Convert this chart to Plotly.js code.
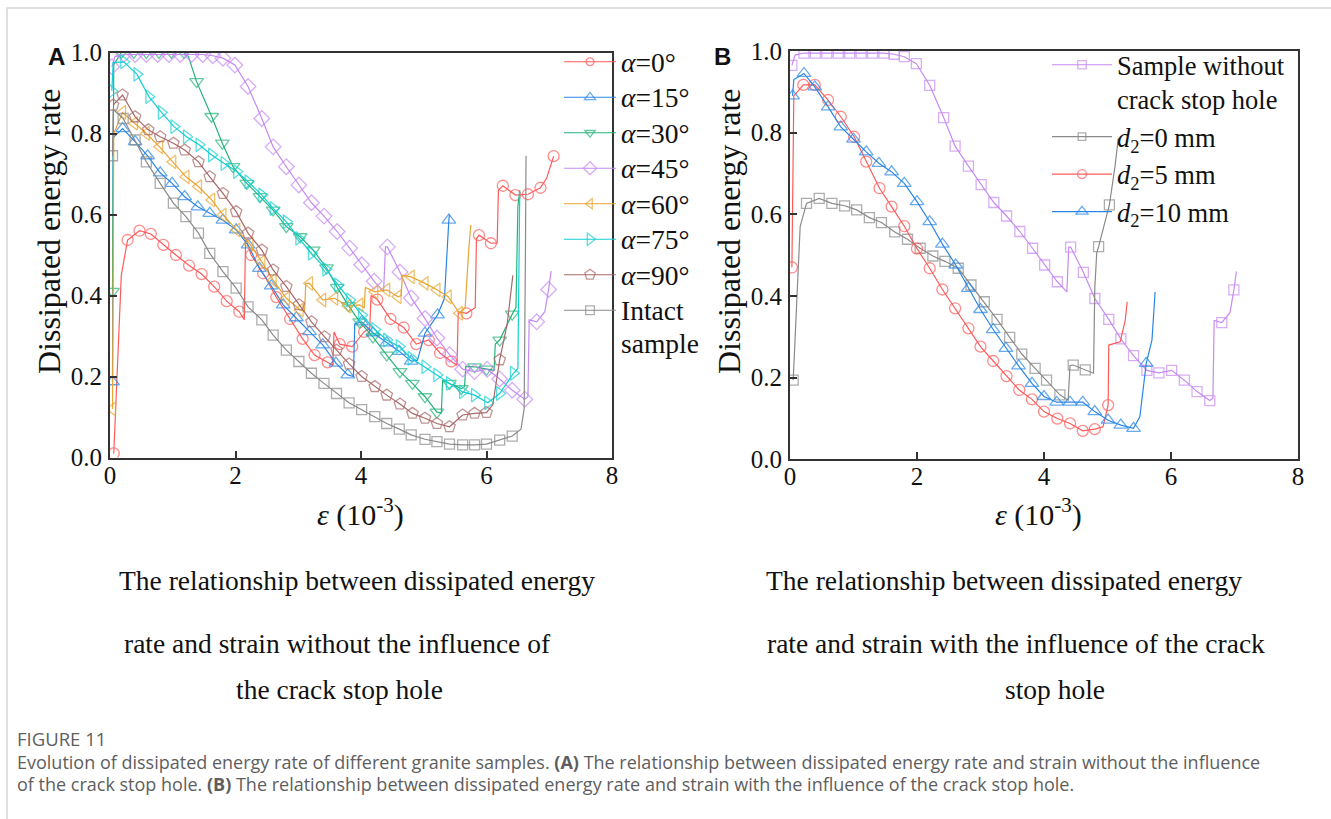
<!DOCTYPE html>
<html><head><meta charset="utf-8">
<script src="https://cdn.plot.ly/plotly-3.0.1.min.js"></script>
<style>html,body{margin:0;padding:0;background:#fff}#g{width:1331px;height:819px}</style>
</head><body><div id="g"></div>
<script>
// ---- data: [strain(1e-3), dissipated energy rate]; third element 0 = line vertex without marker ----
const alpha0 = [[0.06,0.01],[0.18,0.45,0],[0.28,0.537],[0.47,0.56],[0.65,0.552],[0.85,0.525],[1.05,0.50],[1.26,0.474],[1.46,0.453],[1.66,0.422],[1.86,0.386],[2.06,0.36],[2.14,0.34,0],[2.16,0.54,0],[2.25,0.50],[2.44,0.455],[2.65,0.396],[2.87,0.342],[3.07,0.293],[3.26,0.253],[3.47,0.235],[3.55,0.228,0],[3.57,0.31,0],[3.66,0.28],[3.86,0.274],[4.05,0.31],[4.14,0.32,0],[4.16,0.40,0],[4.26,0.39],[4.47,0.342],[4.68,0.321],[4.88,0.28],[5.08,0.29],[5.26,0.258],[5.44,0.237],[5.53,0.228,0],[5.55,0.36,0],[5.68,0.356],[5.82,0.37,0],[5.84,0.54,0],[5.88,0.549],[6.07,0.529],[6.17,0.53,0],[6.19,0.66,0],[6.26,0.671],[6.46,0.648],[6.66,0.65],[6.86,0.666],[6.96,0.69,0],[7.07,0.744]];
const alpha15 = [[0.04,0.187],[0.05,0.79,0],[0.20,0.812],[0.40,0.78],[0.60,0.745],[0.80,0.703],[0.99,0.677],[1.19,0.644],[1.40,0.619],[1.59,0.603],[1.80,0.586],[2.01,0.562],[2.20,0.525],[2.38,0.467],[2.57,0.424],[2.76,0.377],[2.97,0.345],[3.18,0.311],[3.39,0.278],[3.60,0.233],[3.79,0.204],[3.88,0.20,0],[3.90,0.33,0],[4.01,0.335],[4.19,0.308],[4.41,0.283],[4.61,0.262],[4.80,0.238],[4.90,0.24,0],[5.02,0.307],[5.22,0.352],[5.33,0.393,0],[5.38,0.55,0],[5.40,0.586],[5.41,0.60,0]];
const alpha30 = [[0.04,0.41],[0.06,0.97,0],[0.18,1.0],[0.38,1.0],[0.58,1.0],[0.78,1.0],[0.98,1.0],[1.18,1.0],[1.25,0.99,0],[1.38,0.928],[1.62,0.842],[1.79,0.776],[1.96,0.718],[2.18,0.677],[2.39,0.644],[2.60,0.611],[2.81,0.570],[3.03,0.545],[3.24,0.512],[3.45,0.468],[3.62,0.42],[3.80,0.375],[3.98,0.335],[4.19,0.298],[4.41,0.253],[4.62,0.212],[4.82,0.183],[5.02,0.15],[5.21,0.112],[5.28,0.11,0],[5.30,0.19,0],[5.41,0.183],[5.60,0.17],[5.65,0.175,0],[5.67,0.225,0],[5.81,0.224],[6.0,0.218],[6.12,0.215,0],[6.14,0.28,0],[6.21,0.29],[6.41,0.354],[6.47,0.37,0],[6.50,0.62,0],[6.53,0.66,0]];
const alpha45 = [[0.03,0.965],[0.08,0.99,0],[0.22,0.995],[0.40,0.995],[0.58,0.995],[0.76,0.995],[0.94,0.995],[1.12,0.995],[1.30,0.995],[1.48,0.995],[1.64,0.992],[1.80,0.986],[1.99,0.969],[2.20,0.916],[2.42,0.837],[2.60,0.767],[2.81,0.718],[3.01,0.673],[3.21,0.629],[3.41,0.596],[3.62,0.558],[3.82,0.517],[4.01,0.476],[4.21,0.435],[4.36,0.41,0],[4.39,0.52,0],[4.42,0.52],[4.62,0.458],[4.80,0.394],[5.02,0.343],[5.21,0.295],[5.41,0.254],[5.62,0.218],[5.81,0.212],[6.01,0.218],[6.21,0.194],[6.41,0.166],[6.61,0.144],[6.66,0.15,0],[6.68,0.34,0],[6.80,0.335],[6.93,0.36,0],[6.99,0.415],[7.03,0.46,0]];
const alpha60 = [[0.04,0.12],[0.06,0.80,0],[0.20,0.852],[0.39,0.825],[0.58,0.80],[0.79,0.767],[1.0,0.73],[1.21,0.693],[1.41,0.669],[1.62,0.636],[1.80,0.599],[2.02,0.562],[2.23,0.527],[2.42,0.483],[2.60,0.438],[2.81,0.393],[3.03,0.364],[3.10,0.36,0],[3.12,0.43,0],[3.18,0.43],[3.39,0.389],[3.58,0.393],[3.79,0.374],[3.98,0.377],[4.05,0.37,0],[4.07,0.42,0],[4.22,0.409],[4.41,0.414],[4.59,0.397],[4.64,0.40,0],[4.66,0.45,0],[4.80,0.446],[5.02,0.43],[5.21,0.414],[5.39,0.397],[5.57,0.356],[5.66,0.37,0],[5.72,0.52,0],[5.75,0.574,0]];
const alpha75 = [[0.03,0.905],[0.05,0.975,0],[0.22,0.977],[0.43,0.946],[0.62,0.891],[0.82,0.852],[1.02,0.817],[1.22,0.792],[1.42,0.772],[1.62,0.747],[1.82,0.726],[2.02,0.706],[2.20,0.681],[2.42,0.648],[2.60,0.615],[2.81,0.582],[3.01,0.541],[3.21,0.504],[3.44,0.465],[3.63,0.426],[3.82,0.389],[4.01,0.352],[4.22,0.316],[4.41,0.29],[4.61,0.274],[4.80,0.245],[5.02,0.224],[5.21,0.204],[5.41,0.183],[5.62,0.162],[5.81,0.154],[6.02,0.135],[6.21,0.158],[6.43,0.208],[6.50,0.22,0],[6.52,0.62,0],[6.53,0.656,0]];
const alpha90 = [[0.05,0.87],[0.20,0.895],[0.40,0.841],[0.61,0.809],[0.80,0.792],[1.01,0.776],[1.19,0.759],[1.41,0.730],[1.59,0.693],[1.80,0.652],[2.01,0.607],[2.20,0.554],[2.42,0.512],[2.60,0.463],[2.81,0.422],[3.01,0.377],[3.21,0.335],[3.42,0.298],[3.61,0.265],[3.81,0.231],[4.01,0.2],[4.22,0.175],[4.41,0.154],[4.62,0.132],[4.82,0.109],[5.02,0.097],[5.21,0.084],[5.41,0.076],[5.62,0.105],[5.81,0.109],[6.0,0.111],[6.10,0.13,0],[6.21,0.241],[6.33,0.33,0],[6.42,0.45,0]];
const intact = [[0.04,0.745],[0.05,0.86,0],[0.21,0.837],[0.40,0.784],[0.58,0.73],[0.80,0.677],[1.01,0.628],[1.21,0.595],[1.41,0.554],[1.59,0.504],[1.80,0.459],[2.01,0.418],[2.20,0.372],[2.42,0.340],[2.60,0.302],[2.81,0.265],[3.01,0.237],[3.21,0.208],[3.41,0.183],[3.61,0.158],[3.81,0.135],[4.01,0.118],[4.22,0.101],[4.41,0.084],[4.61,0.07],[4.80,0.056],[5.02,0.045],[5.21,0.039],[5.41,0.033],[5.62,0.031],[5.81,0.031],[6.0,0.033],[6.21,0.043],[6.41,0.053],[6.55,0.07,0],[6.60,0.12,0],[6.62,0.50,0],[6.63,0.745,0]];
// panel B ("Sample without crack stop hole" is the same record as alpha = 45°)
const noHole = alpha45;
const d2_0 = [[0.05,0.194],[0.16,0.57,0],[0.26,0.627],[0.46,0.639],[0.66,0.627],[0.86,0.621],[1.05,0.611],[1.25,0.592],[1.44,0.580],[1.65,0.557],[1.85,0.539],[2.05,0.517],[2.25,0.498],[2.44,0.485],[2.65,0.468],[2.85,0.427],[3.06,0.386],[3.26,0.343],[3.46,0.299],[3.65,0.258],[3.86,0.223],[4.04,0.194],[4.25,0.158],[4.38,0.145,0],[4.41,0.23,0],[4.46,0.231],[4.65,0.219],[4.78,0.211,0],[4.80,0.42,0],[4.83,0.505,0],[4.86,0.521],[5.03,0.623],[5.12,0.72,0],[5.17,0.786,0]];
const d2_5 = [[0.03,0.47],[0.06,0.89,0],[0.21,0.917],[0.39,0.917],[0.60,0.88],[0.80,0.839],[1.01,0.79],[1.20,0.729],[1.41,0.664],[1.60,0.619],[1.80,0.571],[2.0,0.516],[2.20,0.468],[2.40,0.416],[2.60,0.37],[2.81,0.321],[3.0,0.276],[3.20,0.241],[3.41,0.204],[3.61,0.17],[3.81,0.147],[4.0,0.117],[4.21,0.10],[4.41,0.088],[4.61,0.07],[4.80,0.074],[4.93,0.08,0],[5.01,0.133],[5.02,0.28,0],[5.20,0.288,0],[5.28,0.341,0],[5.31,0.386,0]];
const d2_10 = [[0.04,0.89],[0.06,0.93,0],[0.22,0.945],[0.39,0.912],[0.60,0.863],[0.80,0.814],[1.0,0.784],[1.20,0.753],[1.40,0.725],[1.60,0.704],[1.80,0.676],[2.0,0.631],[2.20,0.582],[2.40,0.527],[2.61,0.476],[2.81,0.419],[3.0,0.367],[3.20,0.318],[3.40,0.272],[3.60,0.229],[3.81,0.186],[4.0,0.154],[4.20,0.14],[4.41,0.14],[4.61,0.14],[4.80,0.117],[5.01,0.096],[5.21,0.084],[5.41,0.076],[5.51,0.105,0],[5.61,0.235],[5.70,0.292,0],[5.75,0.41,0]];

const namesA = ['<i>α</i>=0°','<i>α</i>=15°','<i>α</i>=30°','<i>α</i>=45°','<i>α</i>=60°','<i>α</i>=75°','<i>α</i>=90°','Intact<br>sample'];
const namesB = ['Sample without<br>crack stop hole','<i>d</i><sub>2</sub>=0 mm','<i>d</i><sub>2</sub>=5 mm','<i>d</i><sub>2</sub>=10 mm'];
const xTicks = [0,2,4,6,8];
const yTicks = [0,0.2,0.4,0.6,0.8,1.0];

// ---- styling ----
const W = 1331, H = 819;
const px = p => p / W, py = p => 1 - p / H;
const C = {red:'#ff5a5a', blue:'#2a86e6', green:'#25b37a', lilac:'#c68af2', orange:'#e8a532', cyan:'#14cfd3', brown:'#a86868', gray:'#8a8a8a'};
// legend A: slightly larger glyphs than the row pitch allows
const bigText = n => n.split('<br>').map(s => '<span style="font-size:27.5px">' + s + '</span>').join('<br>');

function tr(data, name, color, symbol, size, xa, ya, legend) {
  return {
    type:'scatter', mode:'lines+markers', name: name,
    x: data.map(p => p[0]), y: data.map(p => p[1]),
    xaxis: xa, yaxis: ya, legend: legend,
    line: {color: color, width: 1.2},
    marker: {symbol: symbol, color: color, size: data.map(p => p.length > 2 ? 0 : size), line: {color: color, width: 1.3}}
  };
}

const traces = [
  tr(alpha0, bigText(namesA[0]), C.red, 'circle-open', 11, 'x', 'y', 'legend'),
  tr(alpha15, bigText(namesA[1]), C.blue, 'triangle-up-open', 12, 'x', 'y', 'legend'),
  tr(alpha30, bigText(namesA[2]), C.green, 'triangle-down-open', 12, 'x', 'y', 'legend'),
  tr(alpha45, bigText(namesA[3]), C.lilac, 'diamond-open', 12, 'x', 'y', 'legend'),
  tr(alpha60, bigText(namesA[4]), C.orange, 'triangle-left-open', 12, 'x', 'y', 'legend'),
  tr(alpha75, bigText(namesA[5]), C.cyan, 'triangle-right-open', 12, 'x', 'y', 'legend'),
  tr(alpha90, bigText(namesA[6]), C.brown, 'pentagon-open', 12, 'x', 'y', 'legend'),
  tr(intact, bigText(namesA[7]), C.gray, 'square-open', 10, 'x', 'y', 'legend'),
  tr(noHole, namesB[0], C.lilac, 'square-open', 10, 'x2', 'y2', 'legend2'),
  tr(d2_0, namesB[1], C.gray, 'square-open', 10, 'x2', 'y2', 'legend2'),
  tr(d2_5, namesB[2], C.red, 'circle-open', 11, 'x2', 'y2', 'legend2'),
  tr(d2_10, namesB[3], C.blue, 'triangle-up-open', 12, 'x2', 'y2', 'legend2')
];

const serif = 'Liberation Serif, Times New Roman, serif';
const axBase = {
  showgrid:false, zeroline:false, showline:true, linecolor:'#333', linewidth:2, mirror:true,
  ticks:'inside', ticklen:7, tickwidth:2, tickcolor:'#333',
  tickfont:{family:serif, size:25, color:'#111'}, fixedrange:true
};
const xa = (dom) => Object.assign({}, axBase, {domain:dom, range:[0,8], tickvals:xTicks, ticktext:xTicks.map(String), ticklabelstandoff:-6});
const ya = (dom) => Object.assign({}, axBase, {domain:dom, range:[0,1], tickvals:yTicks, ticktext:yTicks.map(v => v.toFixed(1)), ticklabelstandoff:1});

const ann = (text, x, y, o) => Object.assign({text:text, x:px(x), y:py(y), xref:'paper', yref:'paper', showarrow:false,
  xanchor:'center', yanchor:'middle', font:{family:serif, size:27.5, color:'#111'}}, o || {});
const capFont = {family:'Open Sans, Noto Sans, sans-serif', size:18, color:'#5e5e5e'};
const titleFont = {family:serif, size:32, color:'#111'};

const layout = {
  width:W, height:H, margin:{l:0,r:0,t:0,b:0}, paper_bgcolor:'#fff', plot_bgcolor:'rgba(0,0,0,0)',
  showlegend:true,
  xaxis: xa([px(110), px(612)]), yaxis: Object.assign(ya([py(457.5), py(52.5)]), {anchor:'x'}),
  xaxis2: Object.assign(xa([px(790), px(1298)]), {anchor:'y2'}), yaxis2: Object.assign(ya([py(459.4), py(51)]), {anchor:'x2'}),
  legend: {x:px(559), y:py(39), xanchor:'left', yanchor:'top', bgcolor:'rgba(0,0,0,0)', borderwidth:0,
    font:{family:serif, size:25, color:'#111'}, itemwidth:52, valign:'top', tracegroupgap:0},
  legend2: {x:px(1047), y:py(41), xanchor:'left', yanchor:'top', bgcolor:'rgba(0,0,0,0)', borderwidth:0,
    font:{family:serif, size:26.5, color:'#111'}, itemwidth:60, valign:'top', tracegroupgap:0},
  shapes: [
    {type:'rect', xref:'paper', yref:'paper', x0:px(7), x1:1.05, y0:-0.05, y1:py(8), line:{color:'#d6d6d6', width:1.5}, layer:'below'}
  ],
  annotations: [
    ann('<b>A</b>', 46, 57, {xanchor:'left', font:{family:'Liberation Sans, Arial, sans-serif', size:24, color:'#111'}}),
    ann('<b>B</b>', 712, 57, {xanchor:'left', font:{family:'Liberation Sans, Arial, sans-serif', size:24, color:'#111'}}),
    ann('Dissipated energy rate', 49, 231, {textangle:-90, font:titleFont}),
    ann('Dissipated energy rate', 729, 231, {textangle:-90, font:titleFont}),
    ann('<i>ε</i> (10<sup>-3</sup>)', 360, 512, {font:{family:serif, size:30, color:'#111'}}),
    ann('<i>ε</i> (10<sup>-3</sup>)', 1038, 512, {font:{family:serif, size:30, color:'#111'}}),
    ann('The relationship between dissipated energy', 357, 580),
    ann('rate and strain without the influence of', 337, 643),
    ann('the crack stop hole', 339, 689),
    ann('The relationship between dissipated energy', 1004, 580),
    ann('rate and strain with the influence of the crack', 1016, 643),
    ann('stop hole', 1055, 689),
    ann('FIGURE 11', 15, 738.5, {xanchor:'left', font:Object.assign({}, capFont, {size:18.5})}),
    ann('Evolution of dissipated energy rate of different granite samples. <b>(A)</b> The relationship between dissipated energy rate and strain without the influence', 15, 762, {xanchor:'left', font:capFont}),
    ann('of the crack stop hole. <b>(B)</b> The relationship between dissipated energy rate and strain with the influence of the crack stop hole.', 15, 784, {xanchor:'left', font:capFont})
  ]
};

Plotly.newPlot('g', traces, layout, {staticPlot:true, displayModeBar:false});
</script>
</body></html>
